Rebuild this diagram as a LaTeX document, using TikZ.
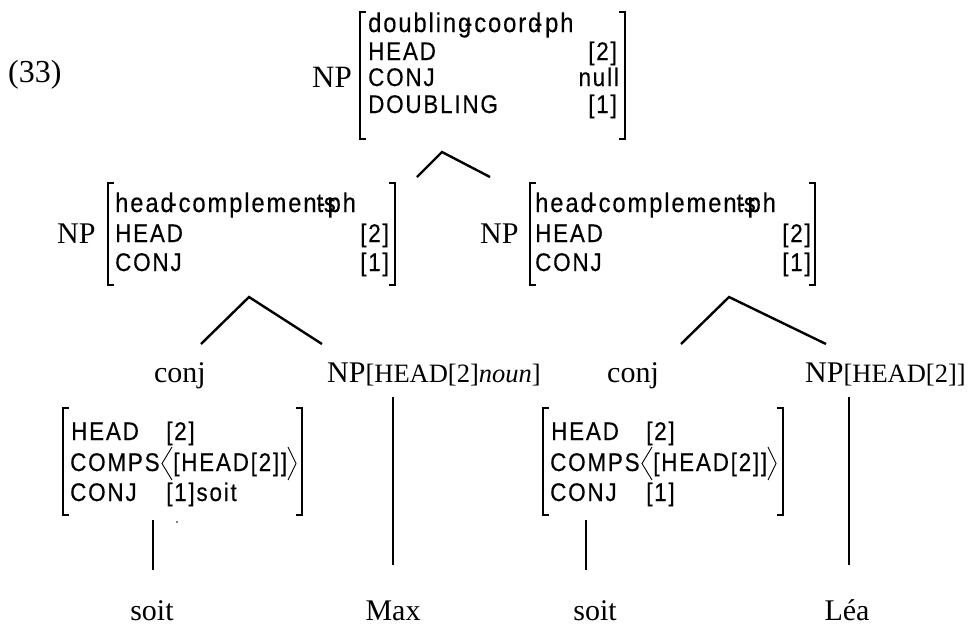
\documentclass[tikz,border=0pt]{standalone}
\usepackage{fontspec}
\setmainfont{Liberation Serif}
\newfontfamily\avmfont[LetterSpace=7,FakeStretch=0.88,FakeBold=0.3]{Liberation Sans}
\newcommand\lbrk[3]{\draw[brk] (#1+6,#2)--(#1,#2)--(#1,#3)--(#1+6,#3);}
\newcommand\rbrk[3]{\draw[brk] (#1-6,#2)--(#1,#2)--(#1,#3)--(#1-6,#3);}
\tikzset{
  avm/.style={inner sep=0pt, anchor=base west, font=\avmfont\fontsize{25.5}{30}\selectfont},
  avmtype/.style={inner sep=0pt, anchor=base west, font=\avmfont\fontsize{27}{32}\selectfont},
  avmv/.style={avm, anchor=base east},
  ser/.style={inner sep=0pt, anchor=base west, font=\fontsize{30}{36}\selectfont},
  serc/.style={ser, anchor=base},
  brk/.style={line width=1.6pt},
  ang/.style={line width=0.9pt},
  branch/.style={line width=2.4pt},
  vline/.style={line width=1.5pt}
}
\begin{document}
\begin{tikzpicture}[x=1pt,y=-1pt]
\useasboundingbox (0,0) rectangle (971,625);
% example number
\node[ser, font=\fontsize{32}{36}\selectfont] (n33) at (8,82) {(33)};
% top AVM
\node[ser, font=\fontsize{31}{36}\selectfont] (topNP) at (312,87) {NP};
\lbrk{360}{12}{139}
\rbrk{625}{12}{139}
\node[avmtype] (tType) at (368,32) {doubling\kern-.25em-coord\kern-.25em-\kern.1em ph};
\node[avm] (tHead) at (368,60) {HEAD};
\node[avm] (tConj) at (368,86) {CONJ};
\node[avm] (tDbl) at (368,113) {DOUBLING};
\node[avmv] (tHeadV) at (617,60) {[2]};
\node[avmv] (tConjV) at (619,86) {null};
\node[avmv] (tDblV) at (617,113) {[1]};
% top branch
\coordinate (tb) at (442,152);
\coordinate (tbl) at (417,177);
\coordinate (tbr) at (490,177);
\draw[branch] (tbl) -- (tb) -- (tbr);
% mid left AVM
\node[ser] (lNP) at (57,243) {NP};
\lbrk{108}{183}{285}
\rbrk{395}{183}{285}
\node[avmtype] (lType) at (115,212) {head\kern-.18em-complemen\kern0em t\kern-.22em-\kern-.05em s\kern-.3em ph};
\node[avm] (lHead) at (115,242) {HEAD};
\node[avm] (lConj) at (115,271) {CONJ};
\node[avmv] (lHeadV) at (389,242) {[2]};
\node[avmv] (lConjV) at (389,271) {[1]};
% mid right AVM
\node[ser] (rNP) at (480,243) {NP};
\lbrk{530}{183}{285}
\rbrk{815}{183}{285}
\node[avmtype] (rType) at (535,212) {head\kern-.18em-complemen\kern0em t\kern-.22em-\kern-.05em s\kern-.3em ph};
\node[avm] (rHead) at (535,242) {HEAD};
\node[avm] (rConj) at (535,271) {CONJ};
\node[avmv] (rHeadV) at (811,242) {[2]};
\node[avmv] (rConjV) at (811,271) {[1]};
% mid branches
\coordinate (lb) at (249,297);
\coordinate (lbl) at (201,344);
\coordinate (lbr) at (322,344);
\draw[branch] (lbl) -- (lb) -- (lbr);
\coordinate (rb) at (729,297);
\coordinate (rbl) at (681,344);
\coordinate (rbr) at (826,344);
\draw[branch] (rbl) -- (rb) -- (rbr);
% level 3 labels
\node[serc] (conjL) at (180,382) {conj};
\node[ser] (npMax) at (327,382) {NP\fontsize{26.5}{30}\selectfont[HEAD[2]\textit{noun}]};
\node[serc] (conjR) at (633,382) {conj};
\node[ser] (npLea) at (805,382) {NP\fontsize{26.5}{30}\selectfont[HEAD[2]]};
% lower left AVM
\lbrk{63}{408}{515}
\rbrk{302}{408}{515}
\node[avm] (llHead) at (71,440) {HEAD};
\node[avm] (llComps) at (70,471) {COMPS};
\node[avm] (llConj) at (70,501) {CONJ};
\node[avm] (llHeadV) at (166,440) {[2]};
\node[avm] (llCompsV) at (173,471) {[HEAD[2]]};
\node[avm] (llConjV) at (166,501) {[1]soit};
\draw[ang] (172,447) -- (162,463.5) -- (172,480);
\draw[ang] (288,447) -- (296,463.5) -- (288,480);
\fill (177,522) circle (0.9);
% lower right AVM
\lbrk{543}{408}{515}
\rbrk{783}{408}{515}
\node[avm] (lrHead) at (551,440) {HEAD};
\node[avm] (lrComps) at (550,471) {COMPS};
\node[avm] (lrConj) at (550,501) {CONJ};
\node[avm] (lrHeadV) at (646,440) {[2]};
\node[avm] (lrCompsV) at (653,471) {[HEAD[2]]};
\node[avm] (lrConjV) at (646,501) {[1]};
\draw[ang] (652,447) -- (642,463.5) -- (652,480);
\draw[ang] (768,447) -- (776,463.5) -- (768,480);
% words
\node[serc] (w1) at (152,620) {soit};
\node[serc] (w2) at (393,620) {Max};
\node[serc] (w3) at (595,620) {soit};
\node[serc] (w4) at (847,620) {Léa};
% vertical lines
\coordinate (v1a) at (153,520); \coordinate (v1b) at (153,570);
\coordinate (v2a) at (393,397); \coordinate (v2b) at (393,565);
\coordinate (v3a) at (586,520); \coordinate (v3b) at (586,570);
\coordinate (v4a) at (849,397); \coordinate (v4b) at (849,565);
\draw[vline] (v1a) -- (v1b);
\draw[vline] (v2a) -- (v2b);
\draw[vline] (v3a) -- (v3b);
\draw[vline] (v4a) -- (v4b);
\end{tikzpicture}
\end{document}
